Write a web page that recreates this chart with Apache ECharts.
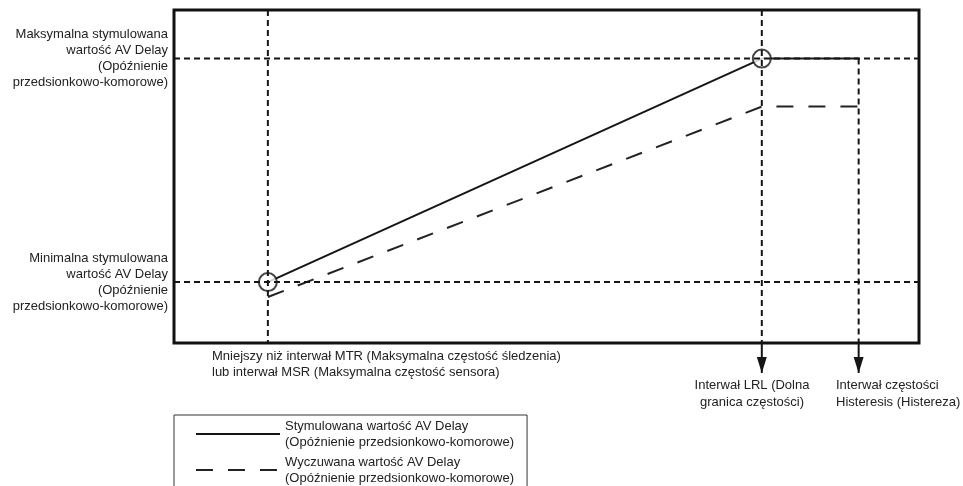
<!DOCTYPE html>
<html>
<head>
<meta charset="utf-8">
<script src="https://cdn.jsdelivr.net/npm/echarts@6/dist/echarts.min.js"></script>
<style>
  html, body { margin: 0; padding: 0; background: #fff; }
  #chart { width: 963px; height: 486px; }
</style>
</head>
<body>
<div id="chart"></div>
<script>
// pozycje na osi X (0-100): MTR/MSR, LRL, Histereza
const xMarks = [12.6, 78.9, 91.9];
// poziomy AV Delay (0-100): minimalna, maksymalna
const yMarks = [18.3, 85.4];
const yLabels = [
  'Minimalna stymulowana\nwartość AV Delay\n(Opóźnienie\nprzedsionkowo-komorowe)',
  'Maksymalna stymulowana\nwartość AV Delay\n(Opóźnienie\nprzedsionkowo-komorowe)'
];
// stymulowana i wyczuwana wartość AV Delay
const pacedAV = [[12.6, 18.3], [78.9, 85.4], [91.9, 85.4]];
const sensedAV = [[12.6, 13.8], [78.9, 71.0], [91.9, 71.0]];
const arrowEnd = -9;
const seriesNames = ['Stymulowana wartość AV Delay', 'Wyczuwana wartość AV Delay'];

const FONT = '"Liberation Sans", Arial, sans-serif';
const INK = '#151515';

let chart = echarts.init(document.getElementById('chart'));

// linie pomocnicze (przerywane)
let guides = [
  [[0, yMarks[1]], [100, yMarks[1]]],
  [[0, yMarks[0]], [100, yMarks[0]]],
  [[xMarks[0], 100], [xMarks[0], 0]],
  [[xMarks[1], 100], [xMarks[1], 0]],
  [[xMarks[2], yMarks[1]], [xMarks[2], 0]]
].map(d => ({
  type: 'line',
  data: d,
  symbol: 'none',
  silent: true,
  z: 4,
  lineStyle: { color: INK, width: 2, type: [6, 4] }
}));

// strzałki pod ramką
let arrows = [xMarks[1], xMarks[2]].map(x => ({
  type: 'line',
  clip: false,
  silent: true,
  z: 4,
  symbol: 'none',
  data: [
    [x, 0],
    { value: [x, arrowEnd], symbol: 'triangle', symbolSize: [10, 16], symbolRotate: 180, symbolOffset: [0, -8] }
  ],
  itemStyle: { color: INK },
  lineStyle: { color: INK, width: 2 }
}));

let option = {
  animation: false,
  grid: {
    left: 174,
    top: 10,
    width: 745,
    height: 333,
    show: true,
    borderColor: '#111',
    borderWidth: 3,
    outerBoundsMode: 'none'
  },
  xAxis: {
    type: 'value',
    min: 0,
    max: 100,
    axisLine: { show: false },
    axisTick: { show: false },
    axisLabel: { show: false },
    splitLine: { show: false }
  },
  yAxis: {
    type: 'value',
    min: 0,
    max: 100,
    axisLine: { show: false },
    axisTick: { show: false },
    splitLine: { show: false },
    axisLabel: {
      customValues: yMarks,
      margin: 6,
      color: '#222',
      fontSize: 13,
      lineHeight: 16,
      fontFamily: FONT,
      formatter: v => yLabels[yMarks.indexOf(v)]
    }
  },
  legend: {
    data: seriesNames,
    orient: 'vertical',
    left: 174,
    top: 415,
    height: 200,
    padding: [3, 13, 30, 21],
    itemWidth: 84,
    itemHeight: 2,
    itemGap: 4,
    borderColor: '#333',
    borderWidth: 1,
    selectedMode: false,
    textStyle: { color: '#222', fontSize: 13, lineHeight: 16, fontFamily: FONT },
    formatter: name => name + '\n(Opóźnienie przedsionkowo-komorowe)'
  },
  series: [
    {
      name: seriesNames[0],
      type: 'line',
      data: pacedAV,
      symbol: 'none',
      z: 2,
      lineStyle: { color: INK, width: 2 },
      itemStyle: { color: INK }
    },
    {
      name: seriesNames[1],
      type: 'line',
      data: sensedAV,
      symbol: 'none',
      z: 2,
      lineStyle: { color: '#222', width: 2, type: [17, 15] },
      itemStyle: { color: '#222' }
    },
    {
      type: 'scatter',
      data: [pacedAV[0], pacedAV[1]],
      symbol: 'circle',
      symbolSize: 18,
      silent: true,
      z: 3,
      itemStyle: { color: '#fff', borderColor: INK, borderWidth: 2 }
    }
  ].concat(guides, arrows),
  graphic: [
    {
      type: 'text', x: 212, y: 348,
      style: {
        text: 'Mniejszy niż interwał MTR (Maksymalna częstość śledzenia)\nlub interwał MSR (Maksymalna częstość sensora)',
        fill: '#222', fontSize: 13, lineHeight: 16, fontFamily: FONT, verticalAlign: 'top'
      }
    },
    {
      type: 'text', x: 752, y: 377,
      style: {
        text: 'Interwał LRL (Dolna\ngranica częstości)',
        fill: '#222', fontSize: 13, lineHeight: 17, fontFamily: FONT, align: 'center', verticalAlign: 'top'
      }
    },
    {
      type: 'text', x: 836, y: 377,
      style: {
        text: 'Interwał częstości\nHisteresis (Histereza)',
        fill: '#222', fontSize: 13, lineHeight: 17, fontFamily: FONT, verticalAlign: 'top'
      }
    }
  ]
};

chart.setOption(option);
</script>
</body>
</html>
